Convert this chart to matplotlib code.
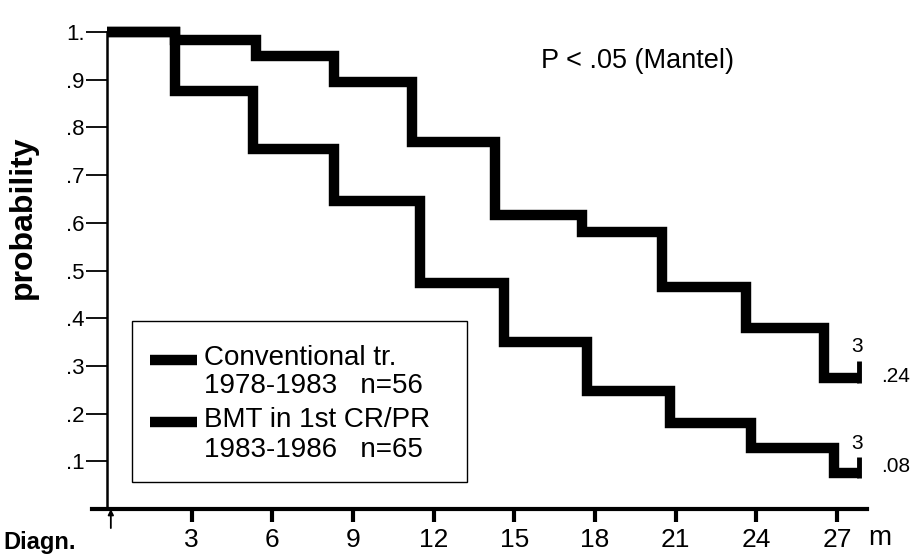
import matplotlib
matplotlib.use("Agg")
import matplotlib.pyplot as plt
from matplotlib.patches import Rectangle
from matplotlib.lines import Line2D

plt.rcParams['font.family'] = ['Liberation Sans', 'DejaVu Sans']

# survival steps (months, probability)
conv_t = [-0.15, 2.4, 5.4, 8.3, 11.2, 14.3, 17.5, 20.5, 23.6, 26.5, 27.8]
conv_p = [1.0, 0.983, 0.95, 0.895, 0.77, 0.616, 0.58, 0.465, 0.38, 0.275, 0.275]
bmt_t = [-0.15, 2.4, 5.3, 8.3, 11.5, 14.6, 17.7, 20.8, 23.8, 26.9, 27.8]
bmt_p = [1.0, 0.876, 0.755, 0.645, 0.473, 0.35, 0.247, 0.18, 0.128, 0.075, 0.075]

x_ticks = [3, 6, 9, 12, 15, 18, 21, 24, 27]
y_ticks = [0.1, 0.2, 0.3, 0.4, 0.5, 0.6, 0.7, 0.8, 0.9, 1.0]
y_labels = ['.1', '.2', '.3', '.4', '.5', '.6', '.7', '.8', '.9', '1.']

legend_lines = ['Conventional tr.', '1978-1983   n=56',
                'BMT in 1st CR/PR', '1983-1986   n=65']
final_labels = ['.24', '.08']
at_risk = ['3', '3']

W, H = 918, 557
fig = plt.figure(figsize=(W / 100, H / 100), dpi=100)
ax = fig.add_axes([92 / W, 48 / H, 780 / W, 486.5 / H])
ax.set_xlim(-0.7, 28.3)
ax.set_ylim(0, 1.02)

def fx(px):
    return px / W

def fy(py):
    return 1 - py / H

lw = 7.5
for t, p in [(conv_t, conv_p), (bmt_t, bmt_p)]:
    ax.step(t, p, where='post', color='black', lw=lw,
            solid_joinstyle='miter', solid_capstyle='butt', zorder=3)
    # censoring tick at the end
    ax.plot([t[-1], t[-1]], [p[-1] - 0.01, p[-1] + 0.035], color='black',
            lw=3.5, solid_capstyle='butt', zorder=3)

ax.text(conv_t[-1] - 0.05, conv_p[-1] + 0.066, at_risk[0], fontsize=15,
        ha='center', va='center')
ax.text(bmt_t[-1] - 0.05, bmt_p[-1] + 0.063, at_risk[1], fontsize=15,
        ha='center', va='center')
ax.text(28.65, conv_p[-1] + 0.003, final_labels[0], fontsize=15,
        ha='left', va='center')
ax.text(28.65, bmt_p[-1] + 0.015, final_labels[1], fontsize=15,
        ha='left', va='center')

ax.text(16.0, 0.94, 'P < .05 (Mantel)', fontsize=19.5, ha='left', va='center')

# axes
for s in ['top', 'right']:
    ax.spines[s].set_visible(False)
ax.spines['left'].set_position(('data', -0.15))
ax.spines['left'].set_bounds(0, 1.0)
ax.spines['left'].set_linewidth(1.8)
ax.spines['bottom'].set_bounds(-0.7, 28.1)
ax.spines['bottom'].set_linewidth(3)

ax.set_yticks(y_ticks)
ax.set_yticklabels(y_labels, fontsize=16)
ax.tick_params(axis='y', length=15, width=1.3, pad=1)
ax.set_xticks(x_ticks)
ax.set_xticklabels([str(v) for v in x_ticks], fontsize=19)
ax.tick_params(axis='x', length=9, width=3, pad=5)

ax.set_ylabel('probability', fontsize=23, fontweight='bold')
ax.yaxis.set_label_coords(-0.07, 0.6)

ax.annotate('', xy=(0, 0), xytext=(0, -0.04), xycoords='data',
            annotation_clip=False,
            arrowprops=dict(arrowstyle='-|>', color='black', lw=1.3,
                            mutation_scale=8, shrinkA=0, shrinkB=0))
ax.text(-1.3, -0.07, 'Diagn.', fontsize=17, fontweight='bold',
        ha='right', va='center')
ax.text(28.6, -0.06, 'm', fontsize=20, ha='center', va='center')

# legend box drawn by hand
fig.patches.append(Rectangle((fx(132), fy(482)), fx(467) - fx(132),
                             fy(321) - fy(482), transform=fig.transFigure,
                             fill=False, edgecolor='black', lw=1.0))
rows = [358, 386, 420, 450]
for i, (txt, yy) in enumerate(zip(legend_lines, rows)):
    if i in (0, 2):
        fig.lines.append(Line2D([fx(150), fx(197)], [fy(yy + 2), fy(yy + 2)],
                                transform=fig.transFigure, color='black',
                                lw=7.5, solid_capstyle='butt'))
    fig.text(fx(204), fy(yy), txt, fontsize=20, ha='left', va='center')

fig.savefig('out.png', dpi=100)
